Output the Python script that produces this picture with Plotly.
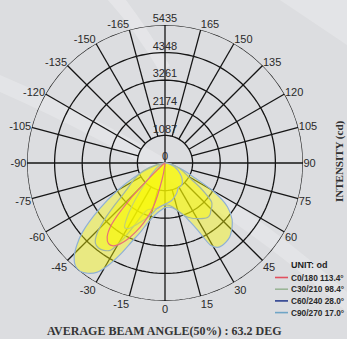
import plotly.graph_objects as go

# Vertical angle (deg) sampled for every C-plane; 0 = nadir, + toward right side
angles = [-90, -80, -70, -65, -60, -55, -50, -47, -44, -41, -38, -35, -32, -29, -26,
          -23, -20, -15, -10, -5, 0, 5, 10, 15, 20, 23, 26, 29, 32, 35, 38, 41, 44,
          47, 50, 55, 60, 65, 70, 80, 90]

# Luminous intensity (cd) per C-plane
c0_180 = [0, 0, 0, 0, 0, 40, 200, 600, 2000, 3200, 3700, 3880, 3850, 3640, 3330,
          2950, 2550, 1800, 650, 100, 0, 0, 0, 0, 0, 0, 0, 0, 0, 0, 0, 0, 0,
          0, 0, 0, 0, 0, 0, 0, 0]
c30_210 = [0, 300, 900, 1200, 1500, 1850, 2600, 3250, 3850, 4180, 4250, 4200, 4050, 3450, 2700,
           2150, 1950, 1880, 1820, 1700, 1650, 1670, 1760, 1950, 2200, 2320, 2420, 2500, 2580, 2660, 2720, 2700, 2600,
           2520, 2400, 1700, 1050, 800, 600, 250, 0]
c60_240 = [0, 50, 150, 250, 350, 500, 700, 850, 1150, 1550, 2050, 2600, 3000, 2950, 2750,
           2550, 2380, 2100, 1820, 1700, 1620, 1560, 1500, 1400, 1300, 1230, 1150, 1100, 1100, 1100, 1080, 1040, 980,
           920, 850, 720, 600, 470, 350, 150, 0]
c90_270 = [0, 150, 750, 1350, 2150, 3150, 4250, 4750, 5150, 5380, 5420, 5300, 5080, 4600, 3990,
           3380, 2950, 2350, 2050, 1870, 1760, 1750, 1800, 1950, 2200, 2500, 2950, 3700, 3920, 3950, 3930, 3880, 3760,
           3620, 3450, 3000, 2150, 1100, 650, 200, 0]

series_names = ["C0/180", "C30/210", "C60/240", "C90/270"]
beam_angles = ["113.4°", "98.4°", "28.0°", "17.0°"]
series_colors = ["#e2505f", "#9ab596", "#2b3f8f", "#6fa5c6"]
outline_colors = ["#e8707a", "#9fb5a8", "#9fb4c4", "#8fb0d6"]

ring_values = [0, 1087, 2174, 3261, 4348, 5435]
r_max = 5435

W, H = 347, 339
cx, cy, rad = 165, 163, 138

fig = go.Figure()

# polar grid: rings and 15-degree spokes (short spokes start at the first ring)
ring_theta, ring_r = [], []
for rv in ring_values[1:]:
    ring_theta += list(range(0, 361, 2)) + [None]
    ring_r += [rv] * 181 + [None]
spoke_theta, spoke_r = [], []
for a in range(0, 360, 15):
    r0 = 0 if a % 90 == 0 else ring_values[1]
    spoke_theta += [a, a, None]
    spoke_r += [r0, r_max, None]
fig.add_trace(go.Scatterpolar(r=ring_r, theta=ring_theta, mode="lines",
                              line=dict(color="#151515", width=1.3), hoverinfo="skip"))
fig.add_trace(go.Scatterpolar(r=spoke_r, theta=spoke_theta, mode="lines",
                              line=dict(color="#151515", width=1.3), hoverinfo="skip"))

# light distribution curves, drawn outermost first
order = [3, 1, 2, 0]
data = [c0_180, c30_210, c60_240, c90_270]
for i in order:
    fig.add_trace(go.Scatterpolar(
        r=data[i] + [0], theta=angles + [angles[0]],
        mode="lines", fill="toself", fillcolor="rgba(250,250,0,0.42)",
        line=dict(color=outline_colors[i], width=1.2, shape="spline", smoothing=0.8),
        name=series_names[i], hoverinfo="skip"))

# ring value labels along the vertical axis
fig.add_trace(go.Scatterpolar(
    r=ring_values, theta=[180] * len(ring_values), mode="text",
    text=[str(v) for v in ring_values], textposition="top center",
    textfont=dict(family="Liberation Sans, Arial", size=11, color="#2a2a2a"),
    hoverinfo="skip"))

tick_vals = [a for a in range(0, 360, 15) if a != 180]
tick_text = [str(a) if a < 180 else str(a - 360) for a in tick_vals]

fig.update_layout(
    width=W, height=H,
    margin=dict(l=0, r=0, t=0, b=0),
    paper_bgcolor="#dcdde0",
    showlegend=False,
    polar=dict(
        domain=dict(x=[(cx - rad) / W, (cx + rad) / W],
                    y=[(H - cy - rad) / H, (H - cy + rad) / H]),
        bgcolor="rgba(0,0,0,0)",
        radialaxis=dict(range=[0, r_max], showticklabels=False, showgrid=False,
                        showline=False, ticks=""),
        angularaxis=dict(rotation=270, direction="counterclockwise",
                         tickmode="array", tickvals=tick_vals, ticktext=tick_text,
                         showgrid=False, showline=False, ticks="",
                         tickfont=dict(family="Liberation Sans, Arial", size=11,
                                       color="#2a2a2a")),
    ),
)


def px(x, y):
    return x / W, 1 - y / H


# soft light streaks on the backdrop
fig.add_shape(type="path", xref="paper", yref="paper", layer="below",
              path="M 0,{:.4f} Q {:.4f},{:.4f} 1,{:.4f} L 1,{:.4f} Q {:.4f},{:.4f} 0,{:.4f} Z".format(
                  1 - 75 / H, 200 / W, 1 - 160 / H, 1 - 292 / H,
                  1 - 312 / H, 200 / W, 1 - 180 / H, 1 - 92 / H),
              fillcolor="rgba(255,255,255,0.22)", line=dict(width=0))
fig.add_shape(type="path", xref="paper", yref="paper", layer="below",
              path="M {:.4f},1 Q {:.4f},{:.4f} {:.4f},{:.4f} L {:.4f},{:.4f} Q {:.4f},{:.4f} {:.4f},1 Z".format(
                  108 / W, 135 / W, 1 - 30 / H, 160 / W, 1 - 72 / H,
                  170 / W, 1 - 66 / H, 147 / W, 1 - 28 / H, 126 / W),
              fillcolor="rgba(255,255,255,0.25)", line=dict(width=0))
fig.add_shape(type="path", xref="paper", yref="paper", layer="below",
              path="M {:.4f},1 L 1,1 L 1,{:.4f} Z".format(280 / W, 1 - 45 / H),
              fillcolor="rgba(255,255,255,0.22)", line=dict(width=0))

# legend block
lx, ly = px(289, 265)
fig.add_annotation(x=lx, y=ly, xref="paper", yref="paper", text="<b>UNIT: od</b>",
                   showarrow=False, xanchor="left", yanchor="middle",
                   font=dict(family="Liberation Sans, Arial", size=9, color="#1e1e1e"))
for k in range(4):
    yy = 277.5 + k * 11.7
    x0, y0 = px(275, yy)
    x1, _ = px(288, yy)
    fig.add_shape(type="line", xref="paper", yref="paper", x0=x0, x1=x1, y0=y0, y1=y0,
                  line=dict(color=series_colors[k], width=1.6))
    tx, ty = px(289, yy)
    fig.add_annotation(x=tx, y=ty, xref="paper", yref="paper",
                       text="<b>{} {}</b>".format(series_names[k], beam_angles[k]),
                       showarrow=False, xanchor="left", yanchor="middle",
                       font=dict(family="Liberation Sans, Arial", size=8.3, color="#2a2a2a"))

# axis caption and beam-angle summary
ix, iy = px(340, 161)
fig.add_annotation(x=ix, y=iy, xref="paper", yref="paper", text="<b>INTENSITY (cd)</b>",
                   textangle=-90, showarrow=False, xanchor="center", yanchor="middle",
                   font=dict(family="Liberation Serif, Times New Roman", size=11, color="#2e2e2e"))
bx, by = px(164, 331)
fig.add_annotation(x=bx, y=by, xref="paper", yref="paper",
                   text="<b>AVERAGE BEAM ANGLE(50%) : 63.2 DEG</b>",
                   showarrow=False, xanchor="center", yanchor="middle",
                   font=dict(family="Liberation Serif, Times New Roman", size=12, color="#353535"))

fig.write_html("out.html")
